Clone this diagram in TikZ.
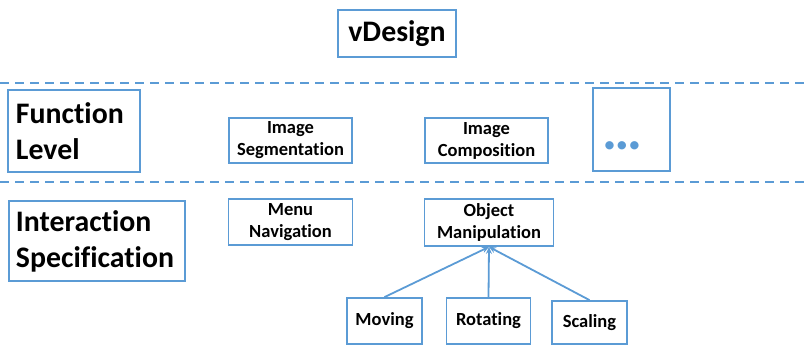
\documentclass[tikz,border=0pt]{standalone}
\usepackage{fontspec}
\setmainfont{Carlito}[Ligatures=NoCommon]
\usetikzlibrary{arrows.meta}
\definecolor{boxblue}{HTML}{5B9BD5}
\begin{document}
\begin{tikzpicture}[x=1pt,y=-1pt,
  box/.style={draw=boxblue,line width=1.8pt,inner sep=0pt,align=center,text=black},
  bigfont/.style={font=\fontsize{29.8}{36}\selectfont\bfseries},
  smallfont/.style={font=\fontsize{18.5}{22}\selectfont\bfseries},
  sep/.style={draw=boxblue,line width=1.8pt,dash pattern=on 9pt off 6pt},
  conn/.style={draw=boxblue,line width=1.8pt,-{Stealth[length=7pt,width=6pt]}}]
\useasboundingbox (0,0) rectangle (809,345);
% separators
\coordinate (s1l) at (0,83); \coordinate (s1r) at (809,83);
\coordinate (s2l) at (0,182); \coordinate (s2r) at (809,182);
\draw[sep] (s1l) -- (s1r);
\draw[sep] (s2l) -- (s2r);
% title
\node[box,bigfont,minimum width=118pt,minimum height=47pt] (vd) at (397,33.5) {vDesign};
% level boxes
\node[box,bigfont,minimum width=132pt,minimum height=82pt,text width=116pt,align=left] (fl) at (74,131) {Function\\Level};
\node[box,bigfont,minimum width=176pt,minimum height=80pt,text width=162pt,align=left] (is) at (97,241) {Interaction\\Specification};
% function level
\node[box,smallfont,minimum width=123pt,minimum height=45pt] (seg) at (290.5,140.5) {Image\\Segmentation};
\node[box,smallfont,minimum width=123pt,minimum height=45pt] (comp) at (486.5,140.5) {Image\\Composition};
\node[box,minimum width=77pt,minimum height=83pt] (more) at (631.5,129.5) {};
\node[font=\fontsize{56}{60}\selectfont\bfseries,text=boxblue,anchor=base,inner sep=0pt] (dots) at (622,149) {…};
% interaction level
\node[box,smallfont,minimum width=124pt,minimum height=46pt] (menu) at (290.5,222) {Menu\\Navigation};
\node[box,smallfont,minimum width=129pt,minimum height=47pt] (om) at (489,222.5) {Object\\Manipulation};
\node[box,smallfont,minimum width=75pt,minimum height=46pt] (mov) at (384.5,321) {Moving};
\node[box,smallfont,minimum width=84pt,minimum height=46pt] (rot) at (488.5,321) {Rotating};
\node[box,smallfont,minimum width=75pt,minimum height=43pt] (sca) at (589.5,322.5) {Scaling};
\draw[conn] (mov.north) -- (om.south);
\draw[conn] (rot.north) -- (om.south);
\draw[conn] (sca.north) -- (om.south);
\end{tikzpicture}
\end{document}
